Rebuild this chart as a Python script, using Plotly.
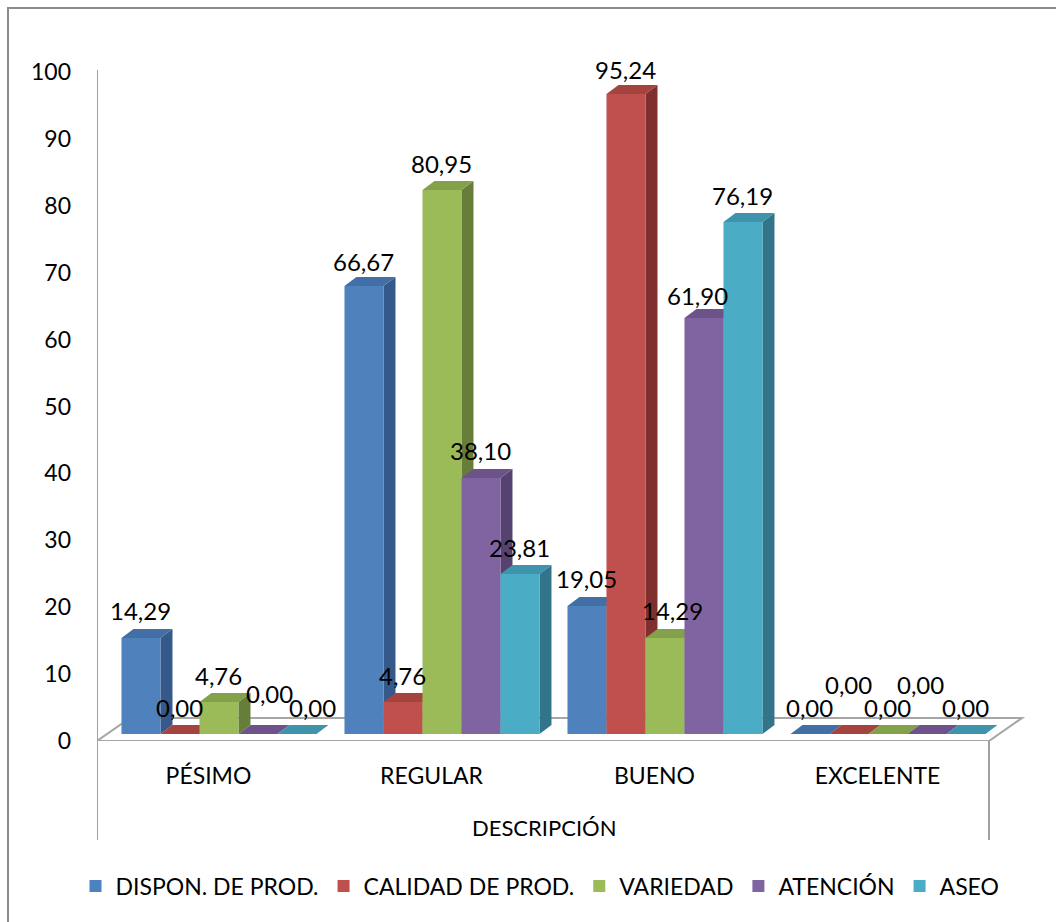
import plotly.graph_objects as go

# ---------------- data ----------------
categories = ["PÉSIMO", "REGULAR", "BUENO", "EXCELENTE"]
series_names = ["DISPON. DE PROD.", "CALIDAD DE PROD.", "VARIEDAD", "ATENCIÓN", "ASEO"]
dispon = [14.29, 66.67, 19.05, 0.00]
calidad = [0.00, 4.76, 95.24, 0.00]
variedad = [4.76, 80.95, 14.29, 0.00]
atencion = [0.00, 38.10, 61.90, 0.00]
aseo = [0.00, 23.81, 76.19, 0.00]
series_values = [dispon, calidad, variedad, atencion, aseo]
y_ticks = list(range(0, 101, 10))

# ---------------- style ----------------
front_colors = ["#4f81bd", "#c0504d", "#9bbb59", "#8064a2", "#4bacc6"]
top_colors = ["#4270a6", "#a5433f", "#83a04a", "#6c5389", "#3f93aa"]
side_colors = ["#35598a", "#7f302e", "#677d3a", "#554270", "#327489"]
FONT = "Lato"

W, H = 1056, 922
ML, MR, MT, MB = 97, 26, 60, 181
PX_PER_UNIT_X = 223.0
PX_PER_VAL_AXIS = 6.69
PX_PER_VAL_BAR = 6.72
BAR_BASE_PX = 734
AXIS_ZERO_PX = 741

plot_w = W - ML - MR
plot_h = H - MT - MB
x_range = [-0.5, -0.5 + plot_w / PX_PER_UNIT_X]
y_range = [0, plot_h / PX_PER_VAL_AXIS]
y2_range = [-(AXIS_ZERO_PX - BAR_BASE_PX) / PX_PER_VAL_BAR,
            (BAR_BASE_PX - MT) / PX_PER_VAL_BAR]

bw = 39 / PX_PER_UNIT_X          # bar width
group_shift = 0.047               # group centre shift (depth placement)
ddx = 12 / PX_PER_UNIT_X          # bar depth (x)
ddy = 9 / PX_PER_VAL_BAR          # bar depth (y)
fdx = 33 / PX_PER_UNIT_X          # floor depth (x)
fdy = 23 / PX_PER_VAL_BAR         # floor depth (y)

xs = list(range(len(categories)))

fig = go.Figure()
shapes = []


def px_to_paper_x(px):
    return (px - ML) / plot_w


def py_to_paper_y(py):
    return (AXIS_ZERO_PX - py) / plot_h


# outer chart border (only top/left visible)
shapes.append(dict(type="rect", xref="paper", yref="paper",
                   x0=px_to_paper_x(8), x1=px_to_paper_x(1070),
                   y0=py_to_paper_y(940), y1=py_to_paper_y(8),
                   line=dict(color="#8c8c8c", width=2), fillcolor="rgba(0,0,0,0)",
                   layer="below"))

# floor
fy0 = y2_range[0]
floor_path = (f"M {x_range[0]},{fy0} L {3.5},{fy0} L {3.5 + fdx},{fy0 + fdy} "
              f"L {x_range[0] + fdx},{fy0 + fdy} Z")
shapes.append(dict(type="path", xref="x", yref="y2", path=floor_path,
                   line=dict(color="#a6a6a6", width=2), fillcolor="white", layer="below"))

# depth faces (side + top) for each bar, drawn left to right
for i in xs:
    for j, vals in enumerate(series_values):
        v = vals[i]
        left = i + group_shift + (j - 2.5) * bw
        right = left + bw
        if v > 0:
            side = (f"M {right},0 L {right + ddx},{ddy} L {right + ddx},{v + ddy} "
                    f"L {right},{v} Z")
            shapes.append(dict(type="path", xref="x", yref="y2", path=side,
                               fillcolor=side_colors[j], line=dict(width=0), layer="below"))
        top = (f"M {left},{v} L {right},{v} L {right + ddx},{v + ddy} "
               f"L {left + ddx},{v + ddy} Z")
        shapes.append(dict(type="path", xref="x", yref="y2", path=top,
                           fillcolor=top_colors[j], line=dict(width=0), layer="below"))

# invisible anchor trace so the value axis (y) is drawn
fig.add_trace(go.Scatter(x=[-0.5], y=[0], mode="markers", marker=dict(opacity=0),
                         showlegend=False, hoverinfo="skip"))

# front faces as real bars
for j, vals in enumerate(series_values):
    fig.add_trace(go.Bar(
        x=xs, y=vals, name=series_names[j], yaxis="y2",
        width=bw, offset=group_shift + (j - 2.5) * bw,
        marker=dict(color=front_colors[j], line=dict(width=0)),
        hoverinfo="skip",
    ))

# axis lines
shapes.append(dict(type="line", xref="x", yref="paper",
                   x0=-0.5, x1=-0.5, y0=py_to_paper_y(840), y1=py_to_paper_y(70),
                   line=dict(color="#a0a0a0", width=2)))
shapes.append(dict(type="line", xref="x", yref="paper",
                   x0=3.5, x1=3.5, y0=py_to_paper_y(840), y1=0,
                   line=dict(color="#a0a0a0", width=2)))

# data labels (extra nudges mimic the overlap avoidance of the original)
label_nudge = {(0, 3): (12, 14), (0, 4): (16, 0), (2, 2): (8, 0), (2, 3): (-6, -4),
               (3, 1): (0, 23), (3, 3): (-6, 23), (1, 0): (0, -3), (2, 1): (0, -3)}
annotations = []
for i in xs:
    for j, vals in enumerate(series_values):
        v = vals[i]
        cx = i + group_shift + (j - 2.5) * bw + bw / 2
        nx, ny = label_nudge.get((i, j), (0, 0))
        annotations.append(dict(x=cx, y=v, xref="x", yref="y2",
                                text=f"{v:.2f}".replace(".", ","),
                                showarrow=False, xshift=nx, yshift=27 + ny,
                                font=dict(family=FONT, size=24, color="black")))

annotations.append(dict(x=px_to_paper_x(543.5), y=py_to_paper_y(827), xref="paper",
                        yref="paper", text="DESCRIPCIÓN", showarrow=False,
                        xanchor="center", yanchor="middle",
                        font=dict(family=FONT, size=22, color="black")))

fig.update_layout(
    width=W, height=H,
    margin=dict(l=ML, r=MR, t=MT, b=MB),
    paper_bgcolor="white", plot_bgcolor="white",
    barmode="overlay",
    font=dict(family=FONT, size=20, color="black"),
    xaxis=dict(range=x_range, tickvals=xs, ticktext=categories, showgrid=False,
               zeroline=False, showline=False, ticks="", ticklabelstandoff=19,
               tickfont=dict(family=FONT, size=23)),
    yaxis=dict(range=y_range, tickvals=y_ticks, showgrid=False, zeroline=False,
               showline=False, ticks="", ticklabelstandoff=25,
               tickfont=dict(family=FONT, size=23)),
    yaxis2=dict(range=y2_range, overlaying="y", visible=False),
    legend=dict(orientation="h", x=px_to_paper_x(540), xanchor="center",
                y=py_to_paper_y(886), yanchor="middle",
                font=dict(family=FONT, size=23), itemclick=False),
    shapes=shapes,
    annotations=annotations,
    showlegend=True,
)

fig.write_html("out.html")
